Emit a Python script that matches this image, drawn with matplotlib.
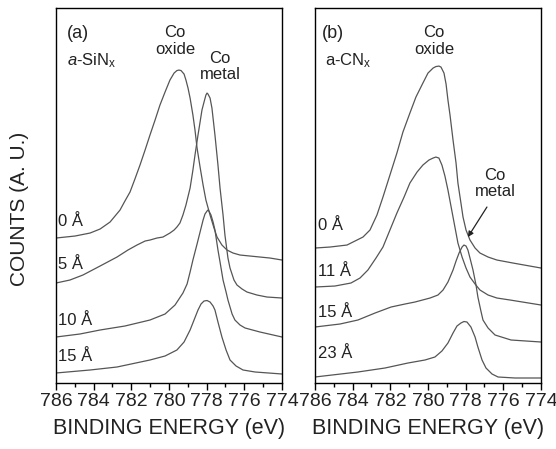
import matplotlib
matplotlib.use('Agg')
import matplotlib.pyplot as plt
from matplotlib.ticker import MultipleLocator

plt.rcParams['font.family'] = ['Liberation Sans', 'DejaVu Sans']
plt.rcParams['mathtext.fontset'] = 'custom'
plt.rcParams['mathtext.rm'] = 'Liberation Sans'
plt.rcParams['mathtext.it'] = 'Liberation Sans:italic'

# ---- panel (a): a-SiNx  (binding energy in eV, counts in arbitrary units) ----
a0_e = [786.00, 784.99, 784.19, 783.66, 783.13, 782.60, 782.34, 782.07, 781.81, 781.54,
        781.27, 781.01, 780.74, 780.48, 780.21, 779.95, 779.73, 779.58, 779.47, 779.36,
        779.20, 779.10, 778.99, 778.88, 778.73, 778.62, 778.51, 778.35, 778.19, 778.04,
        777.82, 777.61, 777.45, 777.19, 776.92, 776.60, 776.23, 775.70, 775.17, 774.64, 774.00]
a0_c = [145, 147, 150, 154, 161, 173, 182, 191, 204, 218,
        233, 248, 263, 278, 291, 303, 310, 312.5, 313, 312.5,
        309, 303, 295, 285, 268, 253, 235, 216, 198, 183,
        168, 155, 146, 138, 133, 130, 128, 127, 126, 125, 123]

a5_e = [786.00, 785.26, 784.57, 783.66, 782.76, 782.18, 781.70, 781.27, 781.01, 780.64,
        780.32, 779.95, 779.73, 779.58, 779.42, 779.26, 779.10, 778.88, 778.73, 778.62,
        778.46, 778.35, 778.25, 778.14, 778.04, 777.98, 777.93, 777.82, 777.72, 777.56,
        777.40, 777.29, 777.13, 777.03, 776.87, 776.76, 776.55, 776.39, 776.12, 775.86,
        775.33, 774.80, 774.00]
a5_c = [100, 103, 108, 117, 126, 133, 138, 142, 143, 145,
        146, 150, 153, 156, 160, 168, 178, 195, 213, 228,
        248, 261, 273, 281, 288, 290, 289, 285, 275, 248,
        218, 195, 168, 148, 125, 115, 103, 98, 94, 91,
        88, 86, 85]

a10_e = [786.00, 784.73, 783.66, 782.34, 781.01, 780.21, 779.68, 779.26, 779.04, 778.88,
         778.73, 778.51, 778.35, 778.19, 778.09, 777.98, 777.93, 777.88, 777.77, 777.66,
         777.56, 777.40, 777.29, 777.13, 776.97, 776.87, 776.65, 776.50, 776.23, 775.96,
         775.17, 774.00]
a10_c = [46, 49, 53, 57, 63, 69, 78, 90, 99, 111,
         123, 139, 151, 163, 169, 172, 173, 172, 168, 161,
         153, 133, 121, 103, 91, 83, 69, 63, 58, 55,
         51, 46]

a15_e = [786.00, 784.19, 782.76, 781.01, 780.21, 779.58, 779.20, 778.88, 778.67, 778.46,
         778.30, 778.14, 777.98, 777.82, 777.66, 777.56, 777.40, 777.19, 776.97, 776.76,
         776.44, 776.07, 775.43, 774.00]
a15_c = [10, 13, 16, 23, 27, 33, 41, 53, 63, 73,
         79, 82, 82.5, 81, 77, 73, 61, 46, 33, 23,
         17, 13, 11, 9]

# ---- panel (b): a-CNx ----
b0_e = [786.00, 785.20, 784.30, 783.45, 783.08, 782.71, 782.39, 782.02, 781.65, 781.33,
        780.96, 780.64, 780.27, 780.00, 779.73, 779.58, 779.42, 779.31, 779.15, 779.04,
        778.94, 778.83, 778.67, 778.51, 778.41, 778.25, 778.14, 777.98, 777.77, 777.50,
        777.24, 776.81, 776.34, 775.49, 774.00]
b0_c = [135, 136, 138, 146, 153, 168, 186, 208, 230, 251,
        270, 286, 300, 310, 315, 316.5, 317, 316, 310, 299,
        283, 268, 243, 220, 200, 180, 166, 153, 143, 135,
        130, 126, 123, 120, 115]

b11_e = [786.00, 784.94, 784.09, 783.61, 783.19, 782.76, 782.39, 782.02, 781.65, 781.27,
         780.96, 780.58, 780.27, 779.95, 779.73, 779.58, 779.42, 779.26, 779.10, 778.94,
         778.78, 778.57, 778.41, 778.19, 777.98, 777.77, 777.50, 777.24, 776.81, 776.34,
         775.64, 774.00]
b11_c = [96, 97, 100, 105, 113, 125, 136, 153, 170, 186,
         200, 211, 218, 223, 225, 226, 225, 218, 207, 193,
         177, 156, 140, 126, 115, 106, 99, 93, 88, 85,
         83, 78]

b15_e = [786.00, 784.67, 783.72, 782.81, 781.96, 781.22, 780.69, 779.89, 779.47, 779.20,
         778.94, 778.67, 778.51, 778.35, 778.19, 778.09, 777.98, 777.88, 777.77, 777.61,
         777.45, 777.35, 777.19, 777.08, 776.81, 776.44, 775.59, 774.00]
b15_c = [56, 59, 63, 70, 76, 79, 81, 85, 88, 93,
         101, 113, 122, 130, 136, 138, 137, 133, 125, 113,
         98, 86, 72, 63, 55, 48, 43, 41]

b23_e = [786.00, 783.72, 782.28, 781.06, 780.16, 779.63, 779.26, 778.94, 778.67, 778.46,
         778.25, 778.09, 777.93, 777.72, 777.50, 777.35, 777.13, 776.92, 776.60, 776.28,
         775.38, 774.00]
b23_c = [6, 11, 15, 20, 23, 26, 32, 40, 50, 57,
         60, 61.5, 61, 56, 46, 36, 23, 15, 9, 6,
         5, 5]

labels_a = ['0 Å', '5 Å', '10 Å', '15 Å']
labels_b = ['0 Å', '11 Å', '15 Å', '23 Å']
label_y_a = [0.432, 0.317, 0.168, 0.072]
label_y_b = [0.419, 0.297, 0.189, 0.078]

line_color = '#555555'
text_color = '#222222'

fig = plt.figure(figsize=(5.56, 4.49), dpi=100)
ax_a = fig.add_axes([0.1007, 0.147, 0.4065, 0.835])
ax_b = fig.add_axes([0.5665, 0.147, 0.4065, 0.835])

for e, c in [(a0_e, a0_c), (a5_e, a5_c), (a10_e, a10_c), (a15_e, a15_c)]:
    ax_a.plot(e, c, color=line_color, lw=0.9)
for e, c in [(b0_e, b0_c), (b11_e, b11_c), (b15_e, b15_c), (b23_e, b23_c)]:
    ax_b.plot(e, c, color=line_color, lw=0.9)

for ax in (ax_a, ax_b):
    ax.set_xlim(786, 774)
    ax.set_ylim(0, 375)
    ax.set_yticks([])
    ax.xaxis.set_major_locator(MultipleLocator(2))
    ax.xaxis.set_minor_locator(MultipleLocator(1))
    ax.tick_params(axis='x', which='major', direction='out', length=5, width=1,
                   labelsize=14, labelcolor=text_color, pad=2)
    ax.tick_params(axis='x', which='minor', direction='out', length=3, width=1)
    for spine in ax.spines.values():
        spine.set_linewidth(1.0)
    ax.set_xlabel('BINDING ENERGY (eV)', fontsize=15.5, color=text_color, labelpad=6)

# curve labels
for lab, y in zip(labels_a, label_y_a):
    ax_a.text(0.009, y, lab, transform=ax_a.transAxes, fontsize=12, color=text_color, va='center')
for lab, y in zip(labels_b, label_y_b):
    ax_b.text(0.013, y, lab, transform=ax_b.transAxes, fontsize=12, color=text_color, va='center')

# panel (a) annotations
ax_a.text(0.049, 0.933, '(a)', transform=ax_a.transAxes, fontsize=13, color=text_color, va='center')
ax_a.text(0.049, 0.86, r'$\mathit{a}$-SiN$_\mathrm{x}$', transform=ax_a.transAxes,
          fontsize=12, color=text_color, va='center')
ax_a.text(0.527, 0.912, 'Co\noxide', transform=ax_a.transAxes, fontsize=12, color=text_color,
          ha='center', va='center', linespacing=1.1)
ax_a.text(0.726, 0.845, 'Co\nmetal', transform=ax_a.transAxes, fontsize=12, color=text_color,
          ha='center', va='center', linespacing=1.1)

# panel (b) annotations
ax_b.text(0.031, 0.933, '(b)', transform=ax_b.transAxes, fontsize=13, color=text_color, va='center')
ax_b.text(0.044, 0.86, r'a-CN$_\mathrm{x}$', transform=ax_b.transAxes,
          fontsize=12, color=text_color, va='center')
ax_b.text(0.527, 0.912, 'Co\noxide', transform=ax_b.transAxes, fontsize=12, color=text_color,
          ha='center', va='center', linespacing=1.1)
ax_b.text(0.796, 0.533, 'Co\nmetal', transform=ax_b.transAxes, fontsize=12, color=text_color,
          ha='center', va='center', linespacing=1.1)
ax_b.annotate('', xy=(777.88, 146), xytext=(776.87, 176),
              arrowprops=dict(arrowstyle='-|>', color=text_color, lw=0.9,
                              mutation_scale=8, shrinkA=0, shrinkB=0))

fig.text(0.035, 0.535, 'COUNTS (A. U.)', rotation=90, fontsize=15, color=text_color,
         ha='center', va='center')

fig.savefig('out.png', dpi=100)
